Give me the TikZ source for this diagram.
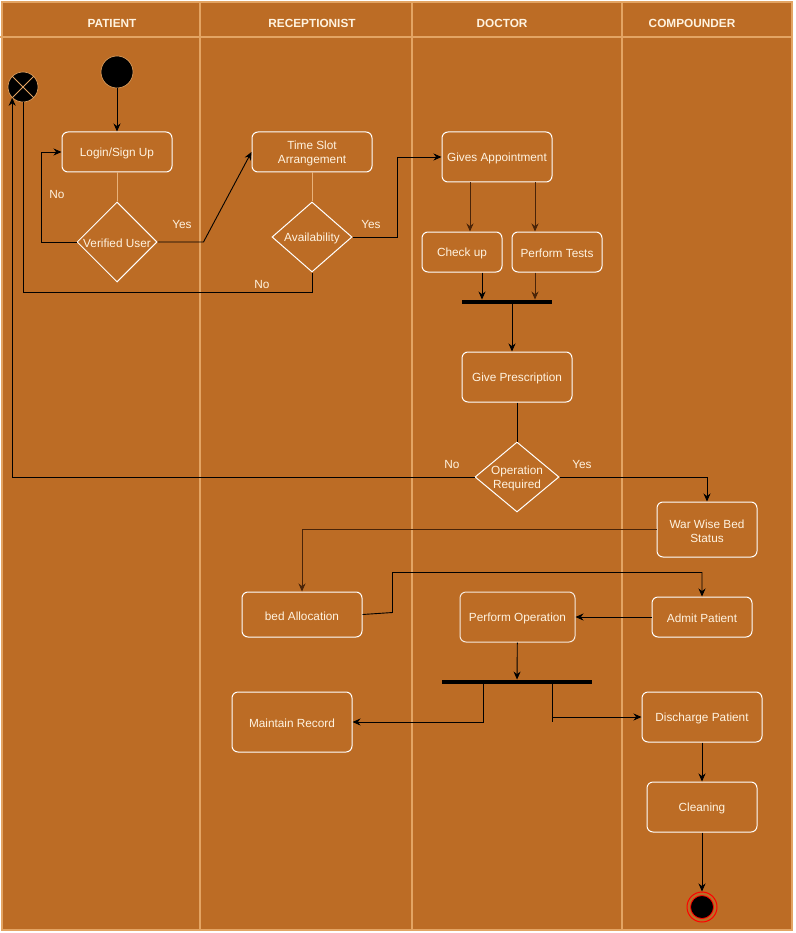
\documentclass[tikz,border=0pt]{standalone}
\usepackage{fontspec}
\setmainfont{Liberation Sans}
\usetikzlibrary{arrows.meta,shapes.geometric}
\definecolor{bg}{HTML}{BC6C25}
\definecolor{framec}{HTML}{E3A463}
\definecolor{txt}{HTML}{FFF3E0}
\definecolor{dbrown}{HTML}{4A2408}
\definecolor{pale}{HTML}{E8B27A}
\begin{document}
\begin{tikzpicture}[x=1pt,y=-1pt,
  every node/.style={font=\fontsize{11.8}{14}\selectfont, text=txt},
  box/.style={draw=white, line width=1pt, rounded corners=6pt, align=center, inner sep=2pt},
  dia/.style={draw=white, line width=1pt, diamond, inner sep=0pt},
  lbl/.style={inner sep=0pt, yshift=-1.5pt},
  hdr/.style={font=\fontsize{11.8}{14}\selectfont\bfseries, text=txt},
  bar/.style={fill=black, inner sep=0pt, minimum height=4.5pt},
  flow/.style={draw=black, line width=0.9pt, -{Stealth[length=8pt,width=7pt]}},
  plain/.style={draw=black, line width=0.9pt},
  paleline/.style={draw=pale, line width=0.9pt},
  lane/.style={draw=framec, line width=1.2pt}
]
\useasboundingbox (0,0) rectangle (795,933);
\fill[white] (0,0) rectangle (795,933);
% frame and lanes
\draw[lane, fill=bg] (2,2) rectangle (792,930);
\draw[lane] (0,37) -- (792,37);
\draw[lane] (200,2) -- (200,930);
\draw[lane] (412,2) -- (412,930);
\draw[lane] (622,2) -- (622,930);
\node[hdr] (h1) at (112,23) {PATIENT};
\node[hdr] (h2) at (312,23) {RECEPTIONIST};
\node[hdr] (h3) at (502,23) {DOCTOR};
\node[hdr] (h4) at (692,23) {COMPOUNDER};

% start / flow end
\node[circle, fill=black, draw=framec, line width=0.6pt, minimum size=32pt, inner sep=0pt] (start) at (117,72) {};
\node[circle, fill=black, draw=framec, line width=0.6pt, minimum size=30pt, inner sep=0pt] (xc) at (23,87) {};
\draw[framec, line width=1pt] (xc.north west) -- (xc.south east) (xc.north east) -- (xc.south west);

% patient lane
\node[box, minimum width=110pt, minimum height=40pt] (login) at (117,152) {};
\node[lbl] (logint) at (login) {Login/Sign Up};
\node[dia, minimum width=80pt, minimum height=80pt] (vu) at (117,242) {};
\node[lbl] (vut) at (vu) {Verified User};

% receptionist lane
\node[box, minimum width=120pt, minimum height=40pt] (ts) at (312,152) {};
\node[lbl, align=center] (tst) at (ts) {Time Slot\\Arrangement};
\node[dia, minimum width=80pt, minimum height=70pt] (av) at (312,237) {};
\node[lbl] (avt) at (av) {Availability};

% doctor lane
\node[box, minimum width=110pt, minimum height=50pt] (ga) at (497,157) {};
\node[lbl] (gat) at (ga) {Gives Appointment};
\node[box, minimum width=80pt, minimum height=40pt] (cu) at (462,252) {};
\node[lbl] (cut) at (cu) {Check up};
\node[box, minimum width=90pt, minimum height=40pt] (pt) at (557,252) {};
\node[lbl] (ptt) at (pt) {Perform Tests};
\node[bar, minimum width=90pt] (bar1) at (507,302) {};
\node[box, minimum width=110pt, minimum height=50pt] (gp) at (517,377) {};
\node[lbl] (gpt) at (gp) {Give Prescription};
\node[dia, minimum width=84pt, minimum height=70pt] (or) at (517,477) {};
\node[lbl, align=center] (ort) at (or) {Operation\\Required};

% lower part
\node[box, minimum width=100pt, minimum height=55pt] (ww) at (707,529.5) {};
\node[lbl, align=center] (wwt) at (ww) {War Wise Bed\\Status};
\node[box, minimum width=120pt, minimum height=45pt] (ba) at (302,614.5) {};
\node[lbl] (bat) at (ba) {bed Allocation};
\node[box, minimum width=100pt, minimum height=40pt] (ap) at (702,617) {};
\node[lbl] (apt) at (ap) {Admit Patient};
\node[box, draw=white!85!bg, minimum width=115pt, minimum height=50pt] (po) at (517.5,617) {};
\node[lbl] (pot) at (po) {Perform Operation};
\node[bar, minimum width=150pt] (bar2) at (517,682) {};
\node[box, minimum width=120pt, minimum height=60pt] (mr) at (292,722) {};
\node[lbl] (mrt) at (mr) {Maintain Record};
\node[box, minimum width=120pt, minimum height=50pt] (dp) at (702,717) {};
\node[lbl] (dpt) at (dp) {Discharge Patient};
\node[box, minimum width=110pt, minimum height=50pt] (cl) at (702,807) {};
\node[lbl] (clt) at (cl) {Cleaning};
\node[circle, draw=red, line width=1pt, minimum size=30pt, inner sep=0pt] (fin) at (702,907) {};
\node[circle, fill=black, draw=red, line width=0.8pt, minimum size=23pt, inner sep=0pt] (fini) at (fin) {};

% connectors
\draw[flow] (start) -- (login);
\draw[paleline] (login) -- (vu);
\draw[flow] (vu.west) -- ++(-35,0) |- (login.west);
\draw[flow] (vu.east) -- ++(46,0) -- (ts.west);
\draw[paleline] (ts) -- (av);
\draw[flow] (av.east) -- ++(45,0) |- (ga.west);
\draw[plain] (av.south) -- ++(0,20) -| (xc.south);
\draw[flow] (or.west) -| (xc.south west);

\draw[flow, draw=dbrown] (ga.south -| 470,0) -- (cu.north -| 470,0);
\draw[flow, draw=dbrown] (ga.south -| 535,0) -- (pt.north -| 535,0);
\draw[flow] (cu.south -| 482,0) -- (bar1.north -| 482,0);
\draw[flow, draw=dbrown] (pt.south -| 535,0) -- (bar1.north -| 535,0);
\draw[flow] (bar1.south -| 512,0) -- (gp.north -| 512,0);
\draw[plain] (gp) -- (or);
\draw[flow] (or.east) -| (ww.north);
\draw[flow, draw=dbrown] (ww.west) -| (ba.north);
\draw[flow] (ba.east) -- ++(30,-2) -- ++(0,-40) -| (ap.north);
\draw[flow] (ap) -- (po);
\draw[flow] (po) -- (bar2);
\draw[flow] (bar2.south -| 483,0) |- (mr.east);
\draw[plain] (bar2.south -| 552,0) -- ++(0,38);
\draw[flow] (bar2.south -| 552,0) |- (dp.west);
\draw[flow] (dp) -- (cl);
\draw[flow] (cl) -- (fin);

% labels
\node[lbl] (l1) at (57,193) {No};
\node[lbl] (l2) at (182,223) {Yes};
\node[lbl] (l3) at (371,223) {Yes};
\node[lbl] (l4) at (262,283) {No};
\node[lbl] (l5) at (452,463) {No};
\node[lbl] (l6) at (582,463) {Yes};
\end{tikzpicture}
\end{document}
